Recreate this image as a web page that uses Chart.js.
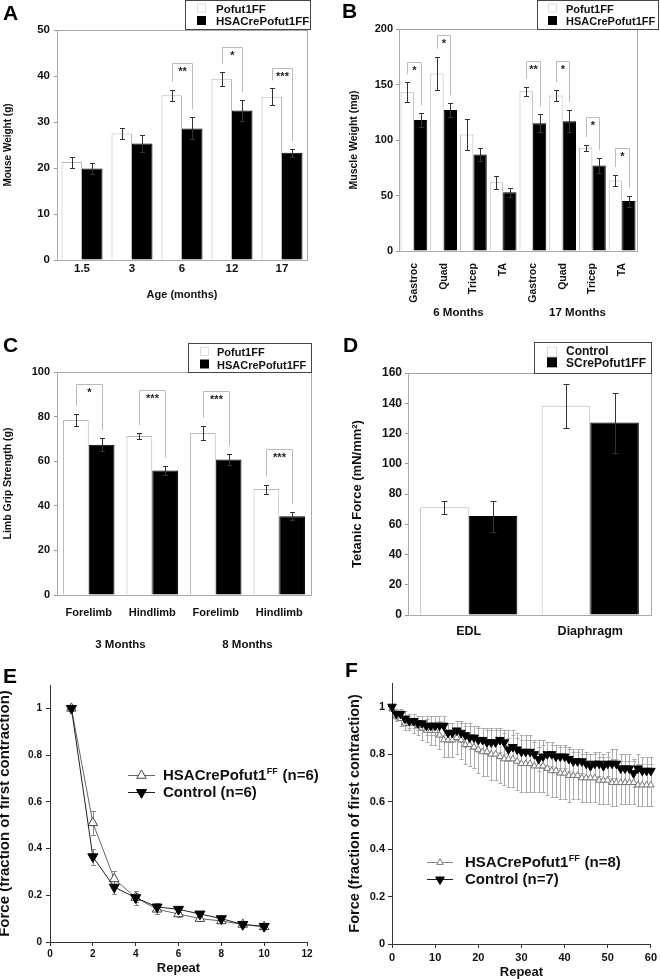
<!DOCTYPE html>
<html>
<head>
<meta charset="utf-8">
<title>Pofut1 muscle phenotype</title>
<script src="https://cdn.jsdelivr.net/npm/chart.js@4.4.1/dist/chart.umd.min.js"></script>
<style>
  html, body { margin: 0; padding: 0; background: #fff; overflow: hidden; }
  body { position: relative; width: 660px; height: 979px; }
  canvas { position: absolute; }
</style>
</head>
<body>
<canvas id="panelA" width="330" height="320" style="left:0;top:0"></canvas>
<canvas id="panelB" width="330" height="330" style="left:330px;top:0"></canvas>
<canvas id="panelC" width="330" height="330" style="left:0;top:320px"></canvas>
<canvas id="panelD" width="330" height="330" style="left:330px;top:320px"></canvas>
<canvas id="panelE" width="330" height="329" style="left:0;top:650px"></canvas>
<canvas id="panelF" width="330" height="330" style="left:330px;top:650px"></canvas>
<script>
// A - body weight by age
const ageLabels = ['1.5', '3', '6', '12', '17'];
const weightFF = [21.3, 27.5, 35.8, 39.4, 35.5];
const weightFFErr = [1.2, 1.3, 1.2, 1.5, 1.8];
const weightKO = [19.9, 25.3, 28.6, 32.5, 23.3];
const weightKOErr = [1.1, 1.9, 2.4, 2.3, 0.8];
const weightSigTop = [null, null, 42.9, 46.2, 41.8];
const weightSig = ['', '', '**', '*', '***'];

// B - muscle weights
const muscleLabels = ['Gastroc', 'Quad', 'Tricep', 'TA', 'Gastroc', 'Quad', 'Tricep', 'TA'];
const muscleFF = [143, 160, 105, 62, 144, 140, 93, 63.5];
const muscleFFErr = [9, 15, 14, 6, 4, 5, 2.5, 5];
const muscleKO = [118, 127, 87, 53, 115, 117, 77, 45];
const muscleKOErr = [6, 6, 6, 4, 8, 10, 7, 5];
const muscleSigTop = [170, 195, null, null, 171, 171, 120.5, 93];
const muscleSig = ['*', '*', '', '', '**', '*', '*', '*'];
const muscleGroups = [['6 Months', 0, 3], ['17 Months', 4, 7]];

// C - grip strength
const gripLabels = ['Forelimb', 'Hindlimb', 'Forelimb', 'Hindlimb'];
const gripFF = [78.5, 71.3, 72.6, 47.5];
const gripFFErr = [2.7, 1.3, 3.3, 2.0];
const gripKO = [67.4, 55.8, 60.8, 35.3];
const gripKOErr = [3.0, 2.2, 2.3, 1.8];
const gripSigTop = [94.6, 91.8, 91.6, 65.6];
const gripSig = ['*', '***', '***', '***'];
const gripGroups = [['3 Months', 0, 1], ['8 Months', 2, 3]];

// D - tetanic force
const forceLabels = ['EDL', 'Diaphragm'];
const forceCtl = [71.3, 138.4];
const forceCtlErr = [4.4, 14.6];
const forceKO = [65.4, 127.2];
const forceKOErr = [10.3, 19.8];

// E - fatigue, 10 repeats
const eRepeat = [1, 2, 3, 4, 5, 6, 7, 8, 9, 10];
const eKO = [1.0, 0.51, 0.27, 0.19, 0.14, 0.12, 0.10, 0.09, 0.075, 0.065];
const eKOErr = [0, 0.05, 0.035, 0.03, 0.02, 0.015, 0.012, 0.01, 0.01, 0.01];
const eCtl = [1.0, 0.365, 0.235, 0.19, 0.15, 0.14, 0.12, 0.10, 0.075, 0.067];
const eCtlErr = [0, 0.035, 0.03, 0.02, 0.015, 0.012, 0.01, 0.01, 0.008, 0.008];

// F - fatigue, 60 repeats
const fRepeat = [0, 1, 2, 3, 4, 5, 6, 7, 8, 9, 10, 11, 12, 13, 14, 15, 16, 17, 18, 19,
  20, 21, 22, 23, 24, 25, 26, 27, 28, 29, 30, 31, 32, 33, 34, 35, 36, 37, 38, 39,
  40, 41, 42, 43, 44, 45, 46, 47, 48, 49, 50, 51, 52, 53, 54, 55, 56, 57, 58, 59, 60];
const fKO = [0.99, 0.96, 0.95, 0.93, 0.93, 0.93, 0.92, 0.91, 0.90, 0.90,
  0.90, 0.88, 0.86, 0.86, 0.86, 0.87, 0.86, 0.84, 0.84, 0.83,
  0.82, 0.81, 0.81, 0.80, 0.80, 0.79, 0.78, 0.78, 0.78, 0.77,
  0.76, 0.76, 0.76, 0.75, 0.75, 0.75, 0.74, 0.73, 0.73, 0.72,
  0.72, 0.71, 0.71, 0.71, 0.70, 0.70, 0.70, 0.70, 0.69, 0.69,
  0.69, 0.68, 0.68, 0.68, 0.68, 0.68, 0.68, 0.67, 0.67, 0.67, 0.67];
const fKOErr = [0.00, 0.02, 0.03, 0.03, 0.03, 0.04, 0.04, 0.05, 0.05, 0.06,
  0.06, 0.06, 0.07, 0.07, 0.07, 0.07, 0.08, 0.08, 0.09, 0.09,
  0.10, 0.10, 0.10, 0.11, 0.11, 0.11, 0.11, 0.12, 0.12, 0.12,
  0.12, 0.12, 0.12, 0.11, 0.11, 0.11, 0.11, 0.11, 0.11, 0.11,
  0.11, 0.11, 0.10, 0.10, 0.10, 0.10, 0.10, 0.10, 0.10, 0.10,
  0.10, 0.10, 0.10, 0.09, 0.09, 0.09, 0.09, 0.09, 0.09, 0.09, 0.09];
const fCtl = [1.00, 0.97, 0.97, 0.95, 0.94, 0.94, 0.93, 0.93, 0.92, 0.92,
  0.92, 0.92, 0.92, 0.89, 0.89, 0.90, 0.89, 0.88, 0.87, 0.87,
  0.86, 0.86, 0.85, 0.85, 0.85, 0.86, 0.85, 0.82, 0.83, 0.82,
  0.81, 0.81, 0.81, 0.80, 0.78, 0.79, 0.80, 0.80, 0.79, 0.79,
  0.79, 0.78, 0.77, 0.77, 0.77, 0.76, 0.75, 0.76, 0.76, 0.75,
  0.76, 0.76, 0.76, 0.74, 0.74, 0.74, 0.72, 0.74, 0.73, 0.73, 0.73];
const fCtlErr = [0.00, 0.02, 0.02, 0.03, 0.03, 0.03, 0.03, 0.03, 0.04, 0.04,
  0.04, 0.04, 0.04, 0.04, 0.04, 0.04, 0.04, 0.05, 0.05, 0.05,
  0.05, 0.05, 0.05, 0.05, 0.05, 0.05, 0.05, 0.05, 0.05, 0.05,
  0.05, 0.05, 0.05, 0.05, 0.05, 0.05, 0.05, 0.05, 0.05, 0.05,
  0.05, 0.05, 0.05, 0.05, 0.05, 0.05, 0.05, 0.05, 0.05, 0.05,
  0.05, 0.06, 0.06, 0.06, 0.06, 0.06, 0.06, 0.06, 0.06, 0.06, 0.06];

const FONT = '"Liberation Sans", Arial, Helvetica, sans-serif';
Chart.defaults.font.family = FONT;
Chart.defaults.font.weight = 'bold';
Chart.defaults.color = '#111';

// per-panel extras drawn by the plugin below
const deco = {
  panelA: { letter: ['A', 3, 20], frame: true, cap: 2.5, errColor: '#333',
    errors: [weightFFErr, weightKOErr], sigTop: weightSigTop, sigText: weightSig,
    legend: { x: 185, y: 0, w: 125, h: 29, size: 11.5, sq: 9, sqX: 12, sqY: [3.5, 16], tx: 31, ty: [12.7, 25] } },
  panelB: { letter: ['B', 12, 18], frame: true, cap: 2.5, errColor: '#333',
    errors: [muscleFFErr, muscleKOErr], sigTop: muscleSigTop, sigText: muscleSig,
    groups: muscleGroups, groupY: 313,
    legend: { x: 207, y: 0, w: 121, h: 29, size: 11, sq: 9, sqX: 11, sqY: [3.5, 16], tx: 29, ty: [12.7, 25] } },
  panelC: { letter: ['C', 3, 32], frame: true, cap: 2.5, errColor: '#333',
    errors: [gripFFErr, gripKOErr], sigTop: gripSigTop, sigText: gripSig,
    groups: gripGroups, groupY: 325,
    legend: { x: 188, y: 23, w: 123, h: 29, size: 11, sq: 9, sqX: 12, sqY: [4, 16.5], tx: 29, ty: [13, 26] } },
  panelD: { letter: ['D', 13, 32], frame: true, cap: 3, errColor: '#333',
    errors: [forceCtlErr, forceKOErr],
    legend: { x: 204, y: 22, w: 117, h: 31, size: 12, sq: 10, sqX: 13, sqY: [4.7, 15.3], tx: 32, ty: [13, 24.7] } },
  panelE: { letter: ['E', 3, 33], errBehind: true, cap: 2.5, errColor: '#888',
    errors: [eKOErr, eCtlErr],
    lineLegend: { rows: [125, 142], x0: 128, x1: 155, mx: 141.5, tx: 163, size: 15 } },
  panelF: { letter: ['F', 15, 27], errBehind: true, cap: 2, errColor: '#aaa',
    errors: [fKOErr, fCtlErr],
    lineLegend: { rows: [212, 229], x0: 97, x1: 123, mx: 110, tx: 135, size: 15 } }
};

function yOf(raw) {
  return typeof raw === 'object' ? raw.y : raw;
}

function drawErrors(chart, d) {
  const ctx = chart.ctx, ys = chart.scales.y;
  ctx.save();
  ctx.strokeStyle = d.errColor;
  ctx.lineWidth = 1;
  d.errors.forEach((errs, i) => {
    const ds = chart.data.datasets[i];
    chart.getDatasetMeta(i).data.forEach((el, j) => {
      const e = errs[j];
      if (!e) return;
      const v = yOf(ds.data[j]);
      const x = Math.round(el.x) + 0.5;
      const t = Math.round(ys.getPixelForValue(v + e)) + 0.5;
      const b = Math.round(ys.getPixelForValue(v - e)) + 0.5;
      ctx.beginPath();
      ctx.moveTo(x, t); ctx.lineTo(x, b);
      ctx.moveTo(x - d.cap, t); ctx.lineTo(x + d.cap, t);
      ctx.moveTo(x - d.cap, b); ctx.lineTo(x + d.cap, b);
      ctx.stroke();
    });
  });
  ctx.restore();
}

function drawBrackets(chart, d) {
  const ctx = chart.ctx, ys = chart.scales.y;
  const m0 = chart.getDatasetMeta(0).data, m1 = chart.getDatasetMeta(1).data;
  const v0 = chart.data.datasets[0].data, v1 = chart.data.datasets[1].data;
  ctx.save();
  ctx.strokeStyle = '#bbb';
  ctx.lineWidth = 1;
  ctx.fillStyle = '#222';
  ctx.font = 'bold 11px ' + FONT;
  ctx.textAlign = 'center';
  d.sigTop.forEach((top, j) => {
    if (top == null) return;
    const xl = Math.round(m0[j].x) + 0.5, xr = Math.round(m1[j].x) + 0.5;
    const yt = Math.round(ys.getPixelForValue(top)) + 0.5;
    const yl = ys.getPixelForValue(v0[j] + d.errors[0][j]) - 8;
    const yr = ys.getPixelForValue(v1[j] + d.errors[1][j]) - 8;
    ctx.beginPath();
    ctx.moveTo(xl, yl); ctx.lineTo(xl, yt); ctx.lineTo(xr, yt); ctx.lineTo(xr, yr);
    ctx.stroke();
    ctx.fillText(d.sigText[j], (xl + xr) / 2, yt + 11);
  });
  ctx.restore();
}

function drawBarLegend(chart, L) {
  const ctx = chart.ctx;
  ctx.save();
  ctx.strokeStyle = '#444';
  ctx.lineWidth = 1;
  ctx.strokeRect(L.x + 0.5, L.y + 0.5, L.w, L.h);
  ctx.font = 'bold ' + L.size + 'px ' + FONT;
  chart.data.datasets.forEach((ds, i) => {
    ctx.fillStyle = ds.backgroundColor;
    ctx.fillRect(L.x + L.sqX, L.y + L.sqY[i], L.sq, L.sq);
    if (i === 0) {
      ctx.strokeStyle = '#ddd';
      ctx.strokeRect(L.x + L.sqX + 0.5, L.y + L.sqY[i] + 0.5, L.sq - 1, L.sq - 1);
    }
    ctx.fillStyle = '#111';
    ctx.fillText(ds.label, L.x + L.tx, L.y + L.ty[i]);
  });
  ctx.restore();
}

function triangle(ctx, x, y, r, down, fill, stroke) {
  const s = down ? -1 : 1;
  ctx.beginPath();
  ctx.moveTo(x, y - s * r);
  ctx.lineTo(x + r * 0.866, y + s * r * 0.5);
  ctx.lineTo(x - r * 0.866, y + s * r * 0.5);
  ctx.closePath();
  ctx.fillStyle = fill;
  ctx.fill();
  ctx.strokeStyle = stroke;
  ctx.stroke();
}

function drawLineLegend(chart, L) {
  const ctx = chart.ctx;
  ctx.save();
  ctx.lineWidth = 1;
  ctx.textBaseline = 'middle';
  chart.data.datasets.forEach((ds, i) => {
    const y = L.rows[i] + 0.5;
    ctx.strokeStyle = ds.borderColor;
    ctx.beginPath(); ctx.moveTo(L.x0, y); ctx.lineTo(L.x1, y); ctx.stroke();
    triangle(ctx, L.mx, y, ds.pointRadius, ds.pointRotation === 180, ds.pointBackgroundColor, ds.pointBorderColor);
    // superscript the FF of the floxed allele name
    const m = ds.label.match(/^(.*Pofut1)(FF)(.*)$/);
    const parts = m ? [m[1], m[2], m[3]] : [ds.label];
    let x = L.tx;
    ctx.fillStyle = '#111';
    ctx.font = 'bold ' + L.size + 'px ' + FONT;
    ctx.fillText(parts[0], x, y);
    x += ctx.measureText(parts[0]).width;
    if (parts.length > 1) {
      ctx.font = 'bold ' + Math.round(L.size * 0.62) + 'px ' + FONT;
      ctx.fillText(parts[1], x + 0.5, y - L.size * 0.28);
      x += ctx.measureText(parts[1]).width + 1;
      ctx.font = 'bold ' + L.size + 'px ' + FONT;
      ctx.fillText(parts[2], x, y);
    }
  });
  ctx.restore();
}

const decor = {
  id: 'decor',
  beforeDatasetsDraw(chart) {
    const d = deco[chart.canvas.id];
    if (d.errBehind) drawErrors(chart, d);
  },
  afterDatasetsDraw(chart) {
    const d = deco[chart.canvas.id];
    if (!d.errBehind) drawErrors(chart, d);
  },
  afterDraw(chart) {
    const d = deco[chart.canvas.id];
    const ctx = chart.ctx, a = chart.chartArea;
    if (d.frame) {
      ctx.save();
      ctx.strokeStyle = '#aaa';
      ctx.lineWidth = 1;
      ctx.strokeRect(Math.round(a.left) + 0.5, Math.round(a.top) + 0.5,
        Math.round(a.right - a.left), Math.round(a.bottom - a.top));
      ctx.restore();
    }
    if (d.sigTop) drawBrackets(chart, d);
    if (d.groups) {
      const xs = chart.scales.x;
      ctx.save();
      ctx.font = 'bold 11.5px ' + FONT;
      ctx.fillStyle = '#111';
      ctx.textAlign = 'center';
      ctx.textBaseline = 'middle';
      d.groups.forEach(g => {
        ctx.fillText(g[0], (xs.getPixelForValue(g[1]) + xs.getPixelForValue(g[2])) / 2, d.groupY);
      });
      ctx.restore();
    }
    if (d.legend) drawBarLegend(chart, d.legend);
    if (d.lineLegend) drawLineLegend(chart, d.lineLegend);
    ctx.save();
    ctx.font = 'bold 21px ' + FONT;
    ctx.fillStyle = '#000';
    ctx.fillText(d.letter[0], d.letter[1], d.letter[2]);
    ctx.restore();
  }
};

function barPanel(id, labels, sets, lay) {
  return new Chart(document.getElementById(id), {
    type: 'bar',
    data: {
      labels: labels,
      datasets: sets.map((s, i) => ({
        label: s.label,
        data: s.data,
        backgroundColor: i === 0 ? '#fff' : '#000',
        borderColor: i === 0 ? '#b8b8b8' : '#000',
        borderWidth: 1,
        categoryPercentage: lay.catPct,
        barPercentage: 1
      }))
    },
    options: {
      responsive: false,
      animation: false,
      devicePixelRatio: 1,
      events: [],
      layout: { padding: lay.pad },
      plugins: { legend: { display: false }, tooltip: { enabled: false } },
      scales: {
        x: {
          grid: { display: false, drawTicks: false },
          border: { display: false },
          ticks: { padding: lay.xPad, autoSkip: false, minRotation: lay.rot || 0, maxRotation: lay.rot || 0,
            font: { size: lay.xFont } },
          title: { display: !!lay.xTitle, text: lay.xTitle || '', padding: 0, font: { size: 11 } },
          afterFit: s => { s.height = lay.xH; }
        },
        y: {
          min: 0,
          max: lay.yMax,
          ticks: { stepSize: lay.yStep, padding: lay.yPad, font: { size: lay.yFont } },
          grid: { drawOnChartArea: false, tickLength: 3, color: '#999' },
          border: { display: false },
          title: { display: true, text: lay.yTitle, padding: 0, font: { size: lay.yTitleFont } },
          afterFit: s => { s.width = lay.yW; }
        }
      }
    },
    plugins: [decor]
  });
}

function linePanel(id, sets, lay) {
  return new Chart(document.getElementById(id), {
    type: 'line',
    data: {
      datasets: sets.map((s, i) => ({
        label: s.label,
        data: s.x.map((x, j) => ({ x: x, y: s.y[j] })),
        borderColor: i === 0 ? lay.koLine : '#222',
        borderWidth: 1,
        tension: 0,
        clip: false,
        order: i === 0 ? 1 : 0,
        pointStyle: 'triangle',
        pointRadius: i === 0 ? lay.koR : lay.ctlR,
        pointRotation: i === 0 ? 0 : 180,
        pointBackgroundColor: i === 0 ? '#fff' : '#000',
        pointBorderColor: i === 0 ? lay.koPoint : '#000',
        pointBorderWidth: 1
      }))
    },
    options: {
      responsive: false,
      animation: false,
      devicePixelRatio: 1,
      events: [],
      layout: { padding: lay.pad },
      plugins: { legend: { display: false }, tooltip: { enabled: false } },
      scales: {
        x: {
          type: 'linear',
          min: 0,
          max: lay.xMax,
          ticks: { stepSize: lay.xStep, padding: lay.xPad, font: { size: lay.tickFont } },
          grid: { drawOnChartArea: false, tickLength: 4, color: '#333' },
          border: { color: '#333' },
          title: { display: true, text: 'Repeat', padding: 0, font: { size: 13 } },
          afterFit: s => { s.height = lay.xH; }
        },
        y: {
          min: 0,
          max: 1.1,
          ticks: { stepSize: 0.2, padding: lay.yPad, font: { size: lay.tickFont },
            callback: v => String(+v.toFixed(1)) },
          afterBuildTicks: s => { s.ticks = s.ticks.filter(t => t.value <= 1.0001); },
          grid: { drawOnChartArea: false, tickLength: 4, color: '#333' },
          border: { color: '#333' },
          title: { display: true, text: 'Force (fraction of first contraction)', padding: lay.yTitlePad,
            font: { size: lay.yTitleFont } },
          afterFit: s => { s.width = lay.yW; }
        }
      }
    },
    plugins: [decor]
  });
}

barPanel('panelA', ageLabels, [
  { label: 'Pofut1FF', data: weightFF },
  { label: 'HSACrePofut1FF', data: weightKO }
], { pad: { left: 2, right: 23, top: 30, bottom: 18.4 }, yW: 55, xH: 41.6, xPad: 2, xFont: 11.5,
  catPct: 0.82, yMax: 50, yStep: 10, yFont: 11.5, yPad: 4, yTitleFont: 10,
  yTitle: 'Mouse Weight (g)', xTitle: 'Age (months)' });

barPanel('panelB', muscleLabels, [
  { label: 'Pofut1FF', data: muscleFF },
  { label: 'HSACrePofut1FF', data: muscleKO }
], { pad: { left: 18, right: 23, top: 29, bottom: 19 }, yW: 51, xH: 60, xPad: 12, xFont: 10.5, rot: 90,
  catPct: 0.9, yMax: 200, yStep: 50, yFont: 11, yPad: 3, yTitleFont: 10.5,
  yTitle: 'Muscle Weight (mg)' });

barPanel('panelC', gripLabels, [
  { label: 'Pofut1FF', data: gripFF },
  { label: 'HSACrePofut1FF', data: gripKO }
], { pad: { left: 1.5, right: 19, top: 52, bottom: 15 }, yW: 55.5, xH: 40, xPad: 11, xFont: 11,
  catPct: 0.81, yMax: 100, yStep: 20, yFont: 11, yPad: 4, yTitleFont: 10.5,
  yTitle: 'Limb Grip Strength (g)' });

barPanel('panelD', forceLabels, [
  { label: 'Control', data: forceCtl },
  { label: 'SCrePofut1FF', data: forceKO }
], { pad: { left: 19.7, right: 9, top: 53, bottom: 5 }, yW: 58.3, xH: 30, xPad: 9, xFont: 12.5,
  catPct: 0.8, yMax: 160, yStep: 20, yFont: 12, yPad: 3, yTitleFont: 13,
  yTitle: 'Tetanic Force (mN/mm\u00b2)' });

linePanel('panelE', [
  { label: 'HSACrePofut1FF (n=6)', x: eRepeat, y: eKO },
  { label: 'Control (n=6)', x: eRepeat, y: eCtl }
], { pad: { left: 0, right: 23, top: 35, bottom: 3.2 }, yW: 50, xH: 33.8, xMax: 12, xStep: 2,
  xPad: 2, yPad: 4, tickFont: 10, yTitleFont: 15, yTitlePad: { top: -4 },
  koR: 5.5, ctlR: 5.8, koLine: '#666', koPoint: '#444' });

linePanel('panelF', [
  { label: 'HSACrePofut1FF (n=8)', x: fRepeat, y: fKO },
  { label: 'Control (n=7)', x: fRepeat, y: fCtl }
], { pad: { left: 16.3, right: 6, top: 33, bottom: 0.2 }, yW: 45.7, xH: 35.8, xMax: 60, xStep: 10,
  xPad: 3, yPad: 3, tickFont: 11, yTitleFont: 14.5, yTitlePad: 0,
  koR: 3.8, ctlR: 5, koLine: '#888', koPoint: '#777' });
</script>
</body>
</html>
